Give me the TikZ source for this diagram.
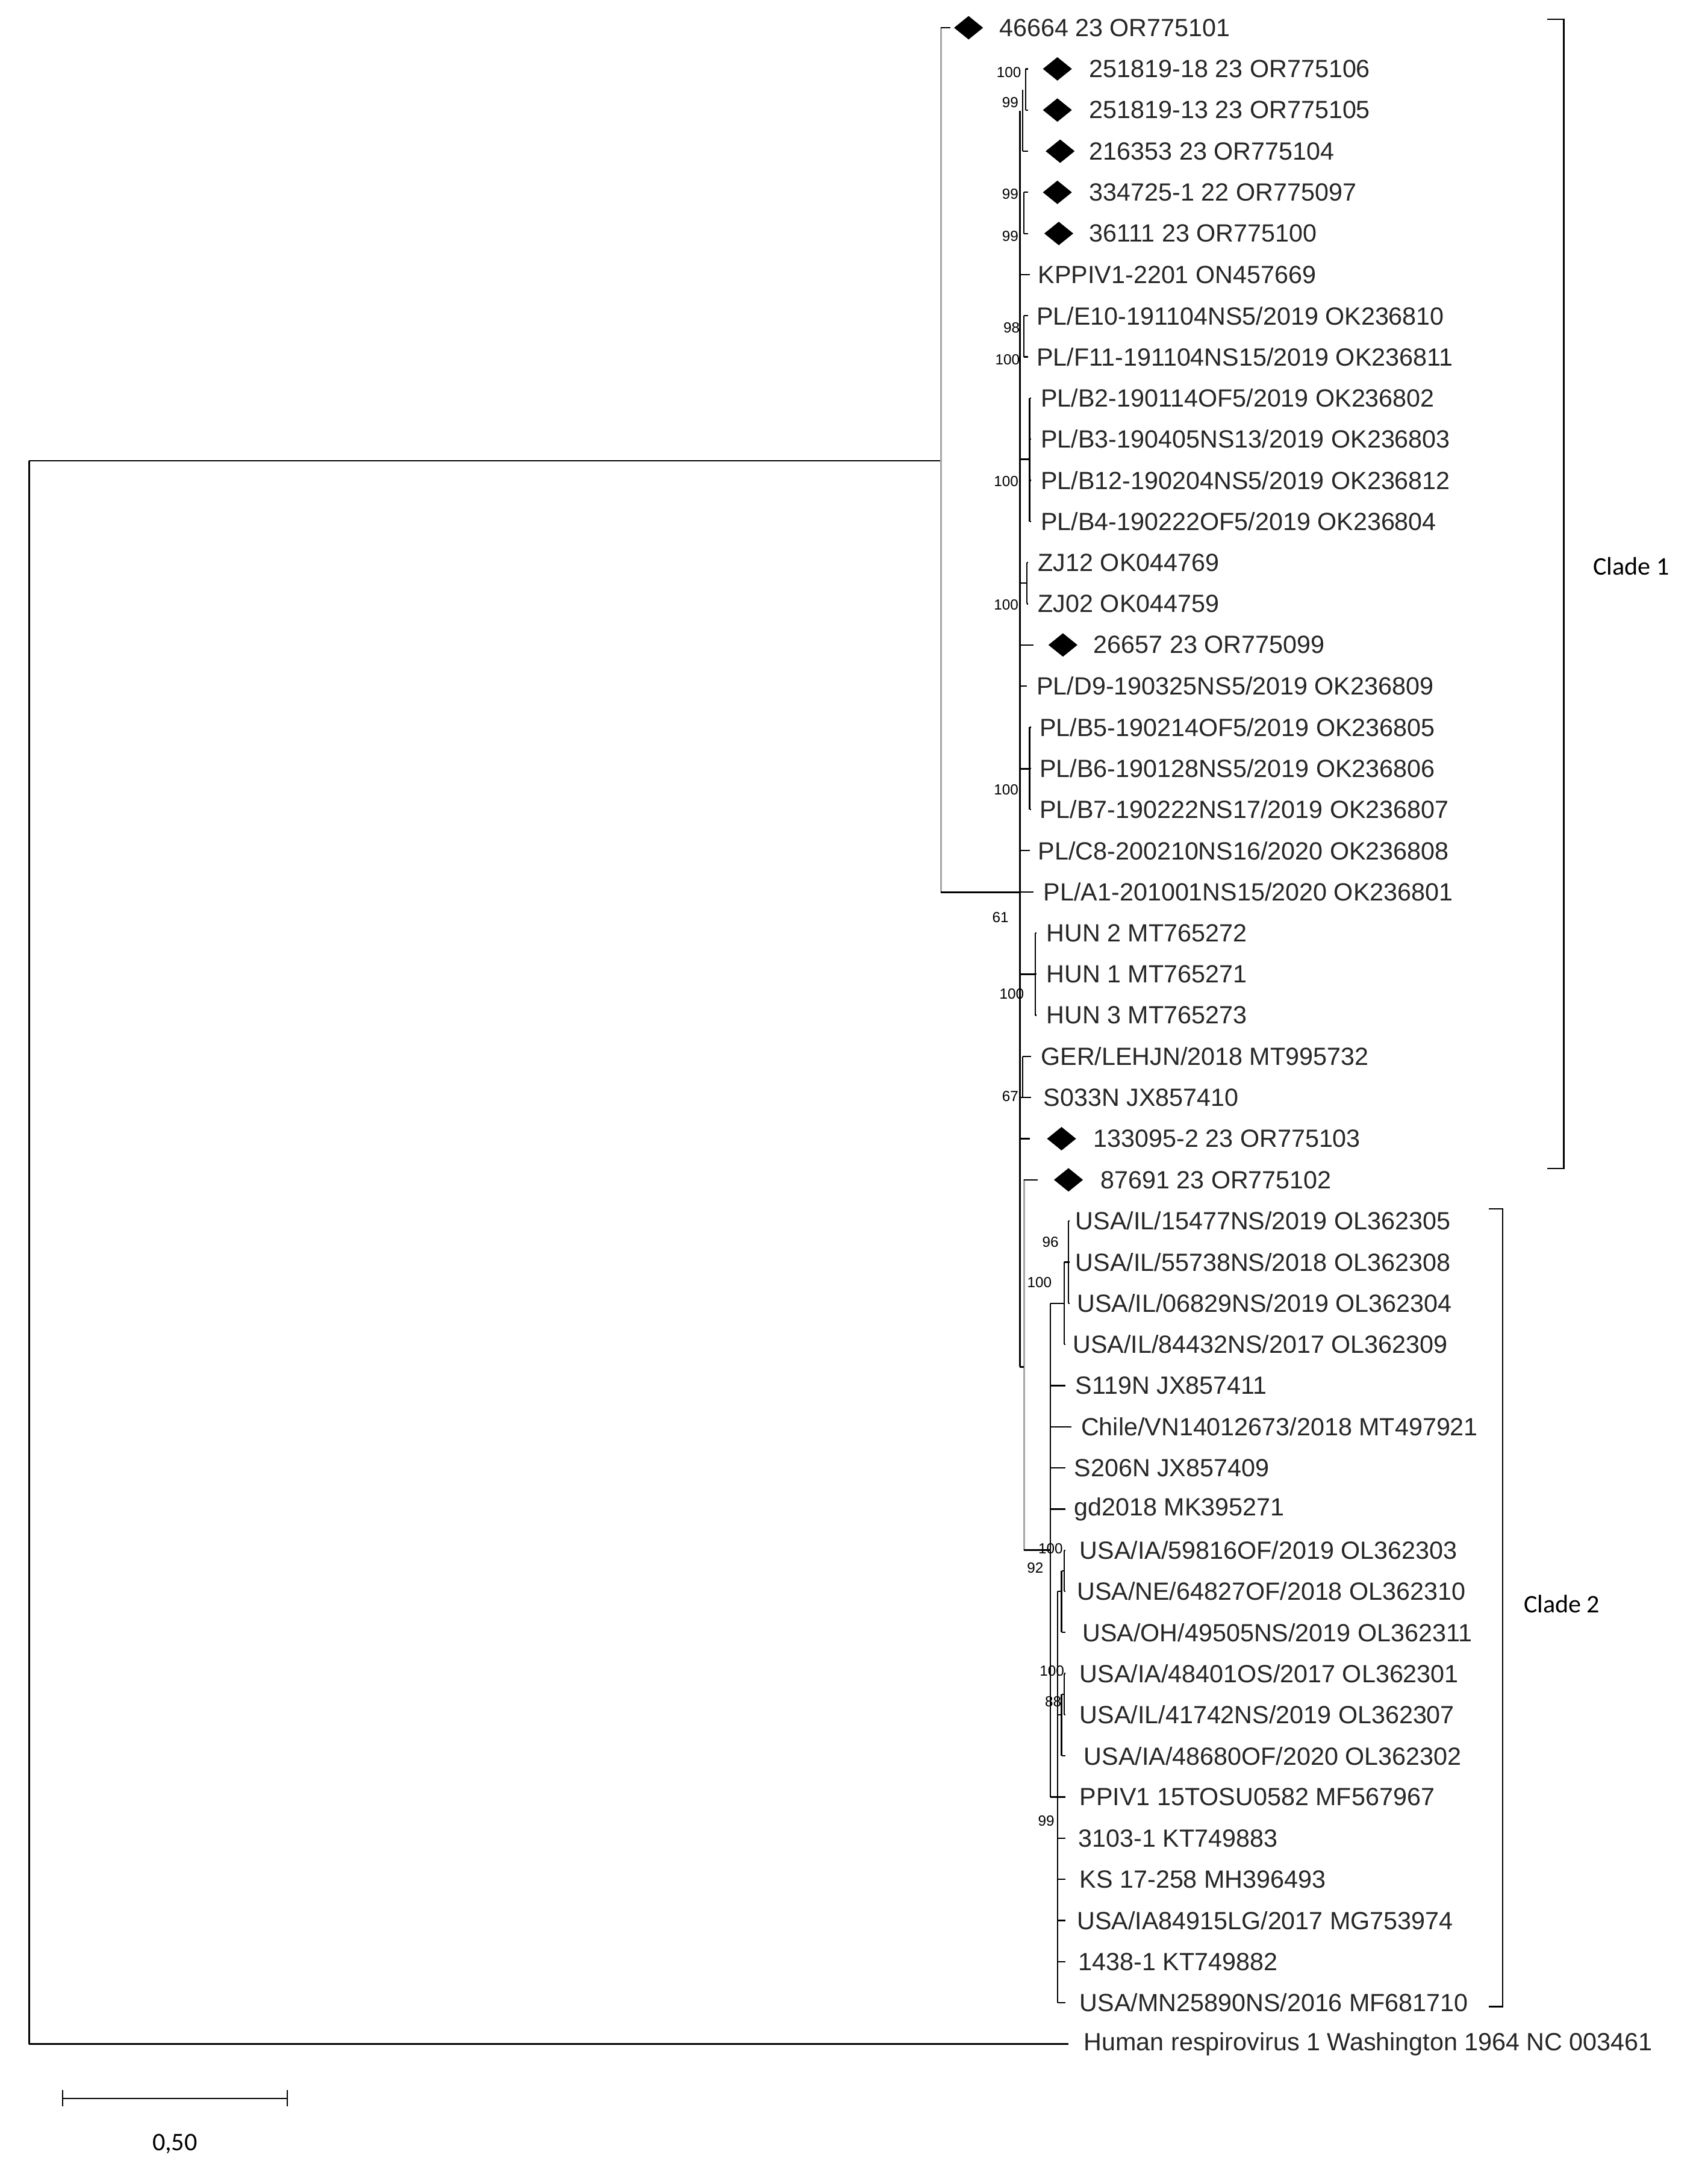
\documentclass[tikz,border=0pt]{standalone}
\usepackage{fontspec}
\setmainfont{Liberation Sans}
\newfontfamily\clfont{Carlito}
\usetikzlibrary{shapes.geometric}
\newcommand\Leaf[6]{%
 \pgfmathsetmacro\yy{20+29.65*#2}%
 \coordinate (t#1) at (#4,\yy);
 \draw[br] (#3,\yy) -- (t#1);
 \node[lab] (#1) at (#5,\yy) {#6};}
\newcommand\Dia[3]{\pgfmathsetmacro\yy{20+29.65*#2}\node[dia] (d#1) at (#3,\yy) {};}
\newcommand\Vt[3]{\draw[br] (#1,{20+29.65*#2}) -- (#1,{20+29.65*#3});}
\newcommand\Bs[3]{\node[bs] at (#1,#2) {#3};}
\begin{document}
\begin{tikzpicture}[x=0.05cm,y=-0.05cm,
 br/.style={line width=1.4pt,black},
 gbr/.style={line width=1.8pt,gray!70},
 lab/.style={anchor=west,inner sep=0pt,font=\fontsize{25.5}{28}\selectfont,text=black!85},
 bs/.style={anchor=east,inner sep=0pt,font=\fontsize{15}{17}\selectfont},
 dia/.style={diamond,fill=black,aspect=1.25,minimum width=1.05cm,minimum height=0.85cm,inner sep=0pt},
 cl/.style={font=\clfont\fontsize{26}{30}\selectfont,anchor=west,inner sep=0pt}]
\useasboundingbox (0,0) rectangle (1221.8,1573.8);
% root
\draw[br] (21,332) -- (678,332);
\draw[br] (21,332) -- (21,1473);
\Leaf{hum}{49}{21}{770}{781}{Human respirovirus 1 Washington 1964 NC 003461}
% node A
\draw[gbr] (678,20) -- (678,643);
\draw[br] (678,643) -- (735,643);
\Leaf{a0}{0}{678}{685}{720}{46664 23 OR775101}\Dia{a0}{0}{698}
% node B
\draw[br] (735,80) -- (735,985);
% rows 1-3
\Vt{737}{1.5}{3}\Vt{739}{1}{2}
\Leaf{a1}{1}{739}{741}{785}{251819-18 23 OR775106}\Dia{a1}{1}{762}
\Leaf{a2}{2}{739}{741}{785}{251819-13 23 OR775105}\Dia{a2}{2}{762}
\Leaf{a3}{3}{737}{741}{785}{216353 23 OR775104}\Dia{a3}{3}{764}
\Bs{736}{52}{100}\Bs{734}{74}{99}
% rows 4-5
\Vt{738}{4}{5}
\Leaf{a4}{4}{738}{741}{785}{334725-1 22 OR775097}\Dia{a4}{4}{762}
\Leaf{a5}{5}{738}{741}{785}{36111 23 OR775100}\Dia{a5}{5}{763}
\Bs{734}{140}{99}\Bs{734}{170}{99}
\Leaf{a6}{6}{735}{742}{748}{KPPIV1-2201 ON457669}
\Vt{738}{7}{8}
\Leaf{a7}{7}{738}{741}{747}{PL/E10-191104NS5/2019 OK236810}
\Leaf{a8}{8}{738}{741}{747}{PL/F11-191104NS15/2019 OK236811}
\Bs{735}{236}{98}\Bs{735}{259}{100}
% B cluster
\Vt{742}{9}{12}\draw[br] (735,331) -- (742,331);
\Leaf{a9}{9}{742}{743}{750}{PL/B2-190114OF5/2019 OK236802}
\Leaf{a10}{10}{742}{743}{750}{PL/B3-190405NS13/2019 OK236803}
\Leaf{a11}{11}{742}{743}{750}{PL/B12-190204NS5/2019 OK236812}
\Leaf{a12}{12}{742}{743}{750}{PL/B4-190222OF5/2019 OK236804}
\Bs{734}{347}{100}
% ZJ
\Vt{740}{13}{14}\draw[br] (735,420) -- (740,420);
\Leaf{a13}{13}{740}{741}{748}{ZJ12 OK044769}
\Leaf{a14}{14}{740}{741}{748}{ZJ02 OK044759}
\Bs{734}{436}{100}
\Leaf{a15}{15}{735}{745}{788}{26657 23 OR775099}\Dia{a15}{15}{766}
\Leaf{a16}{16}{735}{740}{747}{PL/D9-190325NS5/2019 OK236809}
\Vt{742}{17}{19}\draw[br] (735,554) -- (742,554);
\Leaf{a17}{17}{742}{743}{749}{PL/B5-190214OF5/2019 OK236805}
\Leaf{a18}{18}{742}{743}{749}{PL/B6-190128NS5/2019 OK236806}
\Leaf{a19}{19}{742}{743}{749}{PL/B7-190222NS17/2019 OK236807}
\Bs{734}{569}{100}
\Leaf{a20}{20}{735}{742}{748}{PL/C8-200210NS16/2020 OK236808}
\Leaf{a21}{21}{735}{745}{752}{PL/A1-201001NS15/2020 OK236801}
\Bs{727}{661}{61}
\Vt{746}{22}{24}\draw[br] (735,702) -- (746,702);
\Leaf{a22}{22}{746}{747}{754}{HUN 2 MT765272}
\Leaf{a23}{23}{746}{747}{754}{HUN 1 MT765271}
\Leaf{a24}{24}{746}{747}{754}{HUN 3 MT765273}
\Bs{738}{716}{100}
\Vt{737}{25}{26}
\Leaf{a25}{25}{737}{743}{750}{GER/LEHJN/2018 MT995732}
\Leaf{a26}{26}{735}{743}{752}{S033N JX857410}
\Bs{734}{790}{67}
\Leaf{a27}{27}{735}{742}{788}{133095-2 23 OR775103}\Dia{a27}{27}{765}
% G node
\draw[gbr] (738,850) -- (738,1117);
\draw[br] (735,985) -- (738,985);
\Leaf{a28}{28}{738}{748}{793}{87691 23 OR775102}\Dia{a28}{28}{770}
\draw[br] (738,1117) -- (757,1117);
\Bs{766}{1116}{100}\Bs{752}{1130}{92}
% P node
\draw[br] (757,{20+29.65*31}) -- (757,{20+29.65*43});
\draw[br] (757,{20+29.65*31}) -- (767,{20+29.65*31});
\Vt{767}{30}{32}\Vt{770}{29}{31}\draw[br] (767,{20+29.65*30}) -- (770,{20+29.65*30});
\Leaf{b29}{29}{770}{771}{775}{USA/IL/15477NS/2019 OL362305}
\Leaf{b30}{30}{770}{771}{775}{USA/IL/55738NS/2018 OL362308}
\Leaf{b31}{31}{770}{771}{776}{USA/IL/06829NS/2019 OL362304}
\Leaf{b32}{32}{767}{768}{773}{USA/IL/84432NS/2017 OL362309}
\Bs{763}{895}{96}\Bs{758}{924}{100}
\Leaf{b33}{33}{757}{768}{775}{S119N JX857411}
\Leaf{b34}{34}{757}{772}{779}{Chile/VN14012673/2018 MT497921}
\Leaf{b35}{35}{757}{768}{774}{S206N JX857409}
\Leaf{b36}{36}{757}{768}{774}{gd2018 MK395271}
% Q node
\draw[br] (757,{20+29.65*43}) -- (762,{20+29.65*43});
\draw[br] (762,{20+29.65*38}) -- (762,{20+29.65*48});
\Bs{760}{1312}{99}
\Vt{765}{37.5}{39}\Vt{767}{37}{38}\draw[br] (762,{20+29.65*38}) -- (765,{20+29.65*38});
\draw[br] (765,{20+29.65*37.5}) -- (767,{20+29.65*37.5});
\Leaf{b37}{37}{767}{768}{778}{USA/IA/59816OF/2019 OL362303}
\Leaf{b38}{38}{767}{768}{776}{USA/NE/64827OF/2018 OL362310}
\Leaf{b39}{39}{765}{768}{780}{USA/OH/49505NS/2019 OL362311}
\Vt{765}{40.5}{42}\Vt{767}{40}{41}\draw[br] (762,{20+29.65*41}) -- (765,{20+29.65*41});
\draw[br] (765,{20+29.65*40.5}) -- (767,{20+29.65*40.5});
\Leaf{b40}{40}{767}{768}{778}{USA/IA/48401OS/2017 OL362301}
\Leaf{b41}{41}{767}{768}{778}{USA/IL/41742NS/2019 OL362307}
\Leaf{b42}{42}{765}{768}{781}{USA/IA/48680OF/2020 OL362302}
\Bs{767}{1204}{100}\Bs{765}{1226}{88}
\Leaf{b43}{43}{762}{768}{778}{PPIV1 15TOSU0582 MF567967}
\Leaf{b44}{44}{762}{768}{777}{3103-1 KT749883}
\Leaf{b45}{45}{762}{768}{778}{KS 17-258 MH396493}
\Leaf{b46}{46}{762}{768}{776}{USA/IA84915LG/2017 MG753974}
\Leaf{b47}{47}{762}{768}{777}{1438-1 KT749882}
\Leaf{b48}{48}{762}{768}{778}{USA/MN25890NS/2016 MF681710}
% brackets
\coordinate (c1a) at (1115,14);\coordinate (c1b) at (1115,842);
\draw[br] (c1a) -- (1127,14) -- (1127,842) -- (c1b);
\node[cl] (c1) at (1148,408) {Clade 1};
\coordinate (c2a) at (1073,871);\coordinate (c2b) at (1073,1446);
\draw[br] (c2a) -- (1083,871) -- (1083,1446) -- (c2b);
\node[cl] (c2) at (1098,1156) {Clade 2};
% scale bar
\coordinate (s1) at (45,1512);\coordinate (s2) at (207,1512);
\draw[br] (s1) -- (s2);
\draw[br] (45,1506) -- (45,1518);\draw[br] (207,1506) -- (207,1518);
\node[cl,anchor=center] (sl) at (126,1545) {0,50};
\end{tikzpicture}
\end{document}
